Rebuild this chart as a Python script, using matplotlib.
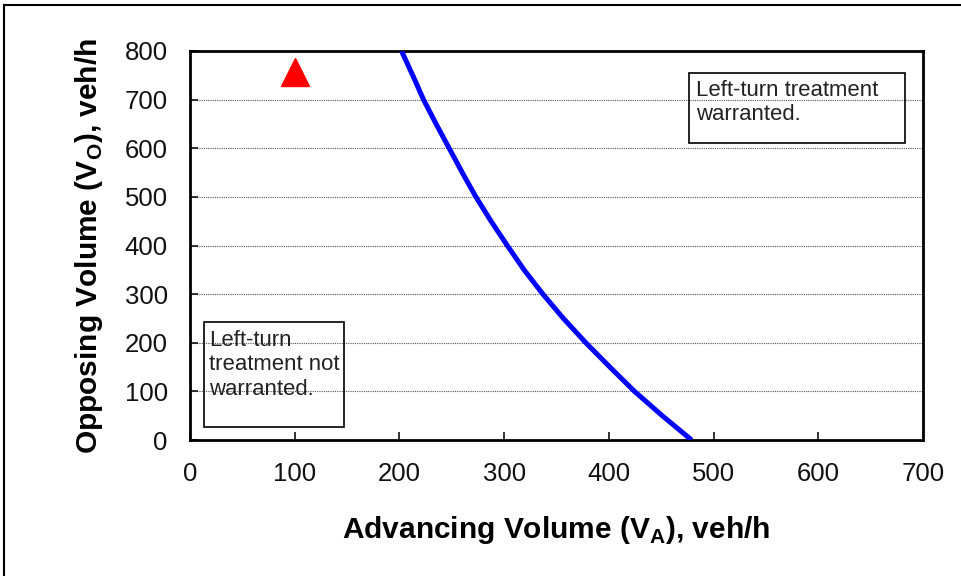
import matplotlib
matplotlib.use("Agg")
import matplotlib.pyplot as plt
from matplotlib.patches import Rectangle
from matplotlib.lines import Line2D

plt.rcParams['font.family'] = ['Liberation Sans', 'DejaVu Sans']

# Data
curve_vo = [800, 750, 700, 650, 600, 550, 500, 450, 400, 350, 300, 250, 200, 150, 100, 50, 0]
curve_va = [202, 212.7, 223, 235, 247.5, 260, 273, 287.5, 303, 319, 337, 356.6, 378, 401, 424.5, 451, 479]
point_va = [100]
point_vo = [757]
x_ticks = [0, 100, 200, 300, 400, 500, 600, 700]
y_ticks = [0, 100, 200, 300, 400, 500, 600, 700, 800]
label_warranted = "Left-turn treatment\nwarranted."
label_not = "Left-turn\ntreatment not\nwarranted."

fig = plt.figure(figsize=(9.62, 5.76), dpi=100)
ax = fig.add_axes([190/962, 1-440/576, (923-190)/962, (440-51)/576])

ax.plot(curve_va, curve_vo, color='#0000ff', lw=3.6, solid_capstyle='butt',
        solid_joinstyle='round', zorder=3)
ax.plot(point_va, point_vo, marker='^', color='#ff0000', markersize=20, ls='none', zorder=4)

ax.set_xlim(0, 700)
ax.set_ylim(0, 800)
ax.set_xticks(x_ticks)
ax.set_yticks(y_ticks)
ax.tick_params(direction='in', length=6, width=1.2, labelsize=18.5, colors='#111111')
ax.tick_params(axis='y', pad=16)
ax.tick_params(axis='x', pad=16)
for s in ax.spines.values():
    s.set_linewidth(2)
ax.yaxis.grid(True, color='#555555', ls=(0, (1, 1)), lw=0.8)
ax.set_axisbelow(True)

ax.set_xlabel(r"Advancing Volume (V$_\mathregular{A}$), veh/h", fontsize=21.5, fontweight='bold', labelpad=20)
ax.set_ylabel(r"Opposing Volume (V$_\mathregular{O}$), veh/h", fontsize=21.5, fontweight='bold', labelpad=14)

# Annotation boxes (data coords)
ax.add_patch(Rectangle((476.6, 611), 206.4, 144, fill=True, facecolor='none', edgecolor='black', lw=1.2, zorder=5))
ax.text(483, 741, label_warranted, fontsize=15.9, va='top', ha='left', linespacing=1.2, zorder=6, color='#222222')
ax.add_patch(Rectangle((13.4, 27), 133.6, 216, fill=True, facecolor='none', edgecolor='black', lw=1.2, zorder=5))
ax.text(18, 226, label_not, fontsize=15.9, va='top', ha='left', linespacing=1.2, zorder=6, color='#222222')

# figure border (top and left)
fig.add_artist(Line2D([4/962, 1], [1-5/576, 1-5/576], color='black', lw=1.5, transform=fig.transFigure))
fig.add_artist(Line2D([4/962, 4/962], [0, 1-5/576], color='black', lw=1.5, transform=fig.transFigure))

fig.savefig("out.png", dpi=100)
